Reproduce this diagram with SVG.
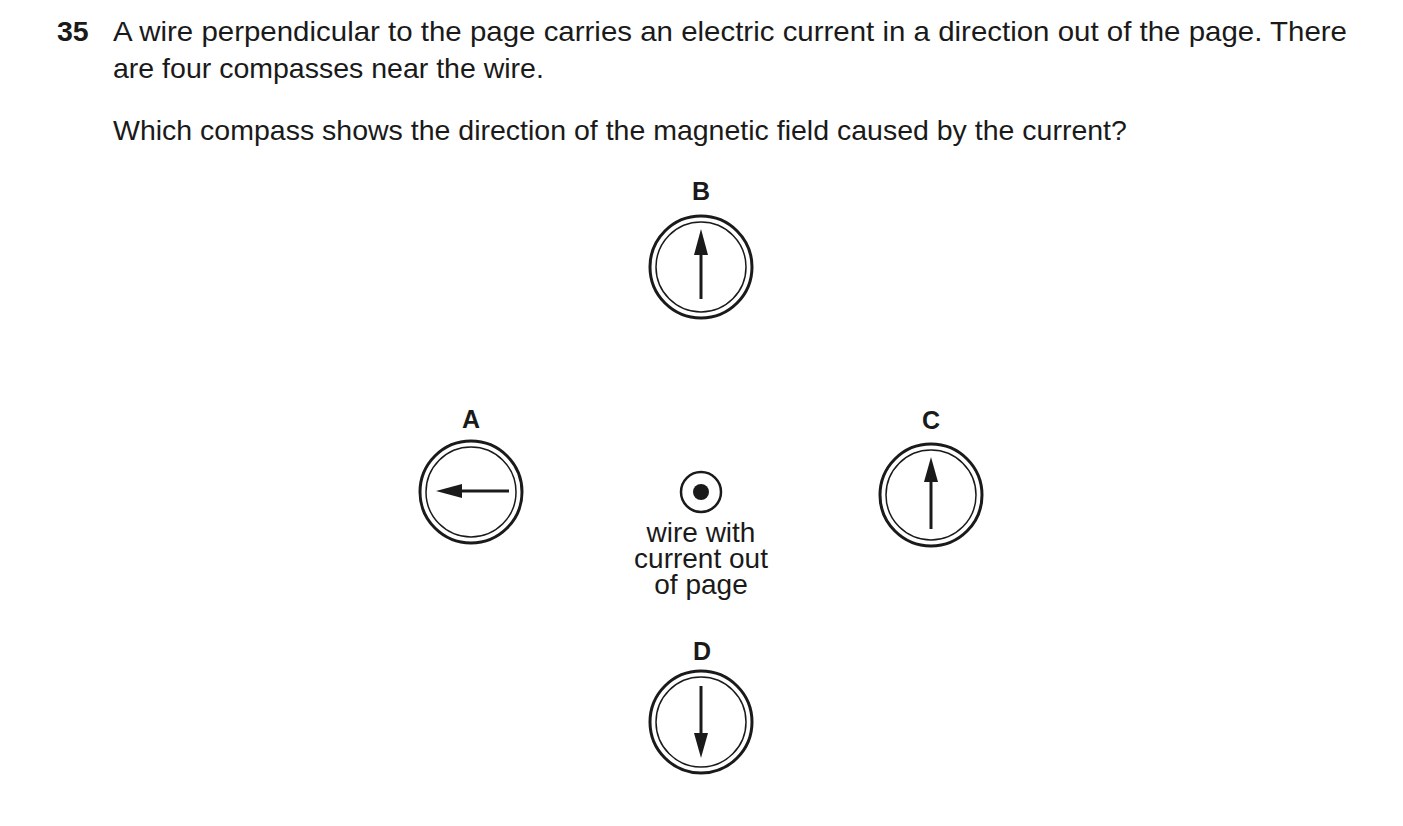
<svg xmlns="http://www.w3.org/2000/svg" width="1403" height="826" viewBox="0 0 1403 826">
<style>
text{font-family:"Liberation Sans",Arial,sans-serif;fill:#1a1a1a}
.q{font-size:28.5px}
.lbl{font-size:25px;font-weight:bold;text-anchor:middle}
.w{font-size:28px;text-anchor:middle}
.o{fill:#fff;stroke:#1a1a1a;stroke-width:3}
.i{fill:none;stroke:#1a1a1a;stroke-width:1.5}
.n{stroke:#1a1a1a;stroke-width:3}
</style>
<defs>
<g id="comp"><circle class="o" r="51"/><circle class="i" r="45"/></g>
</defs>
<rect width="1403" height="826" fill="#fff"/>
<text class="q" x="57" y="41" font-weight="bold" font-size="26">35</text>
<text class="q" x="113" y="41" textLength="1234" lengthAdjust="spacingAndGlyphs">A wire perpendicular to the page carries an electric current in a direction out of the page. There</text>
<text class="q" x="113" y="78">are four compasses near the wire.</text>
<text class="q" x="113" y="140">Which compass shows the direction of the magnetic field caused by the current?</text>
<g id="B"><text class="lbl" x="701" y="200">B</text><use href="#comp" x="701" y="267"/><line class="n" x1="701" y1="299" x2="701" y2="250"/><polygon points="701,229 694,255 708,255" fill="#1a1a1a"/></g>
<g id="A"><text class="lbl" x="471" y="428">A</text><use href="#comp" x="471" y="492"/><line class="n" x1="509" y1="491" x2="455" y2="491"/><polygon points="436,491 462,484 462,498" fill="#1a1a1a"/></g>
<g id="C"><text class="lbl" x="931" y="429">C</text><use href="#comp" x="931" y="495"/><line class="n" x1="931" y1="529" x2="931" y2="477"/><polygon points="931,457 924,482 938,482" fill="#1a1a1a"/></g>
<g id="D"><text class="lbl" x="702" y="660">D</text><use href="#comp" x="701" y="722"/><line class="n" x1="701" y1="686" x2="701" y2="740"/><polygon points="701,758 694,733 708,733" fill="#1a1a1a"/></g>
<g id="wire"><circle cx="701" cy="492" r="20" fill="none" stroke="#1a1a1a" stroke-width="2.5"/><circle cx="701" cy="492" r="8" fill="#1a1a1a"/>
<text class="w" x="701" y="542">wire with</text><text class="w" x="701" y="568">current out</text><text class="w" x="701" y="594">of page</text></g>
<g id="connectors"/>
</svg>
